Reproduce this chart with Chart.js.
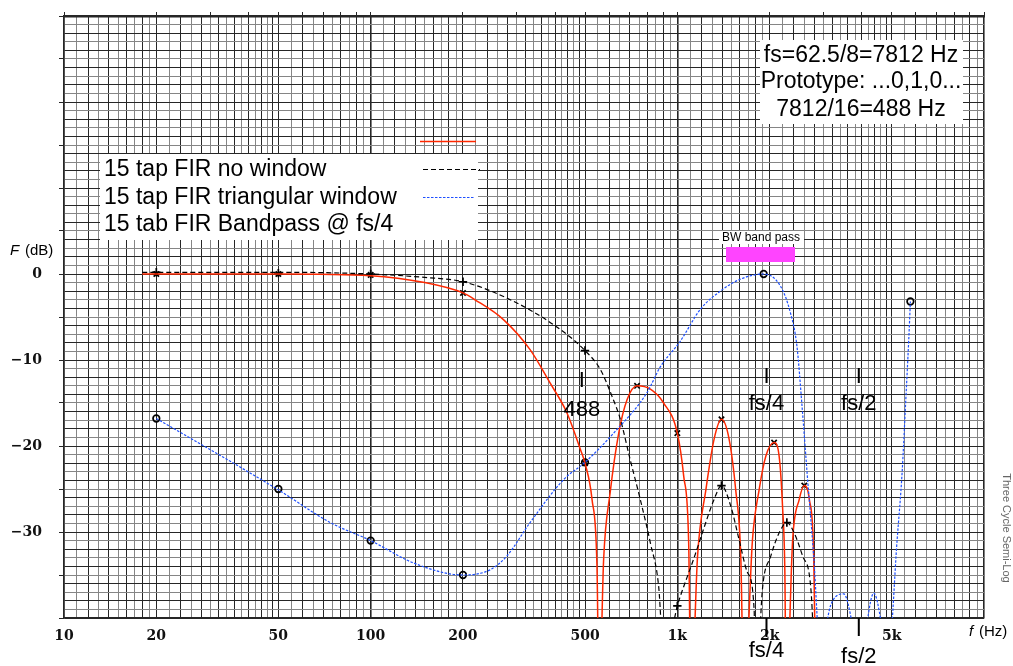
<!DOCTYPE html>
<html>
<head>
<meta charset="utf-8">
<title>15 tap FIR</title>
<script src="https://cdn.jsdelivr.net/npm/chart.js@4.4.1/dist/chart.umd.min.js"></script>
<style>
  html, body { margin: 0; padding: 0; background: #fff; }
  canvas { display: block; }
</style>
</head>
<body>
<canvas id="firChart" width="1013" height="666"></canvas>
<script>
// values: frequency in Hz, response in dB (nulls sit below the -40 floor)
var noWindowFreq = [18, 20, 50, 100, 150, 200, 219, 271, 331, 385, 436, 483, 500, 527, 547, 556,
    575, 604, 644, 686, 739, 817, 902, 1000, 1049, 1089, 1108,
    1164, 1239, 1318, 1393, 1475, 1550, 1610, 1650,
    1758, 1848, 1943, 2068, 2148, 2203, 2242, 2265,
    2377, 2498, 2594, 2694, 2784, 2832];
var noWindowDb = [0, 0, 0, -0.2, -1.0, -2.2, -3.0, -5.3, -8.8, -12.7, -16.1, -20.4, -22.0, -26.2, -34, -50,
    -33.2, -25.4, -18.5, -14.6, -13.0, -13.4, -15.0, -18.5, -23.5, -31.3, -50,
    -32.8, -25.1, -19.2, -16.9, -19.2, -25.1, -32.8, -50,
    -30.9, -25.1, -21.2, -19.6, -21.2, -27.0, -34.7, -50,
    -30.9, -26.2, -24.6, -26.2, -32.8, -50];

var triangFreq = [18, 20, 50, 100, 150, 200, 278, 395, 500, 561, 612, 652, 702, 757, 817, 869, 905,
    1000, 1075, 1134, 1222, 1318, 1393, 1494, 1590, 1693, 1780, 1800,
    1894, 2017, 2148, 2276, 2404, 2562, 2727, 2832];
var triangDb = [0.2, 0.2, 0.2, 0, -0.4, -0.9, -2.8, -5.9, -8.9, -11.1, -14.2, -16.9, -21.6, -26.2, -31.3, -36.3, -45,
    -38.6, -35.3, -33.0, -29.5, -26.2, -24.6, -27.0, -30.9, -34.7, -39.0, -50,
    -36.7, -32.8, -30.1, -28.9, -30.1, -32.8, -36.7, -50];

var bandFreq = [20, 50, 73.8, 100, 138, 200, 245, 278, 331, 426, 500, 620, 796, 880, 1023, 1189, 1380, 1605,
    1912, 2168, 2337, 2455, 2551, 2649, 2784, 2928, 3157, 3488, 3954, 4370, 4887,
    5209, 5407, 5545, 5684, 5754];
var bandDb = [-16.8, -25.1, -28.9, -31.0, -33.6, -35.0, -34.4, -32.8, -28.9, -23.9, -21.9, -18.5, -13.8, -10.8, -7.8, -4.1, -2.0, -0.6,
    0, -1.4, -4.5, -8.4, -15.4, -23.1, -32.8, -44, -38.6, -37.2, -44, -37.1, -44,
    -30.9, -23.1, -15.4, -7.6, -3.2];

// plotted sample points (markers)
var noWindowMarkFreq = [20, 50, 100, 200, 500, 739, 1000, 1393, 2068, 2594];
var noWindowMarkDb = [0, 0, -0.1, -2.2, -22.0, -13.0, -18.5, -16.9, -19.6, -24.6];
var triangMarkFreq = [20, 50, 100, 200, 500, 1000, 1393, 2276];
var triangMarkDb = [0.2, 0.1, 0, -0.9, -8.9, -38.6, -24.6, -28.9];
var bandMarkFreq = [20, 50, 100, 200, 500, 1912, 5754];
var bandMarkDb = [-16.8, -25.0, -31.0, -35.0, -21.9, 0, -3.2];

var seriesNames = ['15 tap FIR no window', '15 tap FIR triangular window', '15 tab FIR Bandpass @ fs/4'];
var xLabelValues = [10, 20, 50, 100, 200, 500, 1000, 2000, 5000];
var xLabelTexts = ['10', '20', '50', '100', '200', '500', '1k', '2k', '5k'];
var yLabelValues = [0, -10, -20, -30];
var fs = 7812;

function pairs(xs, ys) {
    return xs.map(function(v, i) { return { x: v, y: ys[i] }; });
}

// three cycle semi-log paper: 10-20 step 1, 20-50 step 2, 50-100 step 5
function paperTicks() {
    var vals = [];
    [1, 10, 100].forEach(function(k) {
        var i;
        for (i = 10; i < 20; i++) vals.push(i * k);
        for (i = 20; i < 50; i += 2) vals.push(i * k);
        for (i = 50; i < 100; i += 5) vals.push(i * k);
    });
    vals.push(10000);
    return vals;
}

function paperInfo(v) {
    var d = Math.pow(10, Math.floor(Math.log10(v) + 1e-9));
    var i = Math.round(v * 10 / d);
    var idx;
    if (i < 20) idx = i - 10;
    else if (i < 50) idx = (i - 20) / 2;
    else idx = (i - 50) / 5;
    return { decade: i === 10, dark: idx % 2 === 0 };
}

var DARK = '#262626';
var LIGHT = '#858585';

var overlayPlugin = {
    id: 'overlay',
    beforeDatasetsDraw: function(chart) {
        var c = chart.ctx;
        c.save();
        c.fillStyle = '#ffffff';
        c.fillRect(100, 154, 378, 86);
        c.fillRect(760, 40, 203, 84);
        c.fillRect(719, 231, 85, 13);
        c.fillStyle = '#ff44ff';
        c.fillRect(726, 247, 69, 15);
        c.restore();
    },
    afterDatasetsDraw: function(chart) {
        var c = chart.ctx;
        var xs = chart.scales.x;
        var sans = '"Liberation Sans", Arial, Helvetica, sans-serif';
        c.save();
        c.fillStyle = '#000';
        c.textBaseline = 'middle';

        // legend
        c.font = '23px ' + sans;
        c.textAlign = 'left';
        c.fillText(seriesNames[0], 104, 170);
        c.fillText(seriesNames[1], 104, 197.5);
        c.fillText(seriesNames[2], 104, 225);

        c.lineWidth = 1.5;
        c.strokeStyle = 'rgb(255,40,0)';
        c.beginPath(); c.moveTo(420, 141.5); c.lineTo(476, 141.5); c.stroke();
        c.lineWidth = 1.2;
        c.strokeStyle = '#000';
        c.setLineDash([5, 3]);
        c.beginPath(); c.moveTo(423, 169.5); c.lineTo(480, 169.5); c.stroke();
        c.strokeStyle = 'rgb(30,80,255)';
        c.setLineDash([2.5, 1.5]);
        c.beginPath(); c.moveTo(423, 197.5); c.lineTo(474, 197.5); c.stroke();
        c.setLineDash([]);

        // info box
        c.textAlign = 'center';
        c.fillText('fs=62.5/8=7812 Hz', 861, 56);
        c.fillText('Prototype: ...0,1,0...', 861, 82);
        c.fillText('7812/16=488 Hz', 861, 110);

        c.font = '12px ' + sans;
        c.fillText('BW band pass', 761, 238);

        // frequency markers
        c.font = '22px ' + sans;
        var p488 = xs.getPixelForValue(488);
        var p4 = xs.getPixelForValue(fs / 4);
        var p2 = xs.getPixelForValue(fs / 2);
        c.fillText('I', p488, 381);
        c.fillText('488', p488, 410);
        c.fillText('I', p4, 377);
        c.fillText('fs/4', p4, 404);
        c.fillText('I', p2, 377);
        c.fillText('fs/2', p2, 404);
        c.fillText('fs/4', p4, 651);
        c.fillText('fs/2', p2, 657);
        c.lineWidth = 2;
        c.strokeStyle = '#000';
        c.beginPath();
        c.moveTo(p4, 618); c.lineTo(p4, 637);
        c.moveTo(p2, 618); c.lineTo(p2, 636);
        c.stroke();

        // axis titles
        c.textAlign = 'left';
        c.font = 'italic 15px ' + sans;
        c.fillText('F', 10, 251);
        c.fillText('f', 969, 632);
        c.font = '15px ' + sans;
        c.fillText('(dB)', 25, 251);
        c.fillText('(Hz)', 979, 632);

        c.translate(1006, 528);
        c.rotate(Math.PI / 2);
        c.textAlign = 'center';
        c.fillStyle = '#666';
        c.font = '11px ' + sans;
        c.fillText('Three Cycle Semi-Log', 0, 0);
        c.restore();
    }
};

document.addEventListener('DOMContentLoaded', function() {
    var ctx = document.getElementById('firChart').getContext('2d');
    var tickFont = { family: '"DejaVu Serif", serif', weight: 'bold', size: 14 };

    function curve(xs, ys, color, width, dash) {
        return {
            type: 'line',
            data: pairs(xs, ys),
            borderColor: color,
            borderWidth: width,
            borderDash: dash,
            pointRadius: 0,
            fill: false,
            cubicInterpolationMode: 'monotone'
        };
    }
    function marks(xs, ys, style, radius) {
        return {
            type: 'scatter',
            data: pairs(xs, ys),
            showLine: false,
            pointStyle: style,
            pointRadius: radius,
            borderColor: '#000',
            backgroundColor: 'rgba(0,0,0,0)',
            pointBorderWidth: 1.7,
            clip: false
        };
    }

    new Chart(ctx, {
        data: {
            datasets: [
                curve(bandFreq, bandDb, 'rgb(30,80,255)', 1.2, [2.5, 1.5]),
                curve(triangFreq, triangDb, '#000', 1.2, [5, 3]),
                curve(noWindowFreq, noWindowDb, 'rgb(255,40,0)', 1.5, []),
                marks(bandMarkFreq, bandMarkDb, 'circle', 3.3),
                marks(triangMarkFreq, triangMarkDb, 'cross', 4.2),
                marks(noWindowMarkFreq, noWindowMarkDb, 'crossRot', 3.8)
            ]
        },
        options: {
            responsive: false,
            devicePixelRatio: 1,
            animation: false,
            layout: { padding: { left: 0, right: 29, top: 16, bottom: 0 } },
            plugins: { legend: { display: false }, tooltip: { enabled: false } },
            scales: {
                x: {
                    type: 'logarithmic',
                    position: 'bottom',
                    min: 10,
                    max: 10000,
                    afterBuildTicks: function(s) {
                        s.ticks = paperTicks().map(function(v) { return { value: v }; });
                    },
                    afterFit: function(s) {
                        s.height = 48;
                        s.paddingLeft = 0;
                        s.paddingRight = 0;
                    },
                    grid: {
                        drawTicks: false,
                        color: function(c) {
                            return c.tick && paperInfo(c.tick.value).dark ? DARK : LIGHT;
                        },
                        lineWidth: function(c) {
                            return c.tick && paperInfo(c.tick.value).decade ? 1.6 : 1;
                        }
                    },
                    border: { display: true, color: DARK, width: 1.5 },
                    ticks: {
                        autoSkip: false,
                        maxRotation: 0,
                        padding: 10,
                        color: '#111',
                        font: tickFont,
                        callback: function(v) {
                            var i = xLabelValues.indexOf(v);
                            return i >= 0 ? xLabelTexts[i] : '';
                        }
                    }
                },
                xTop: {
                    type: 'logarithmic',
                    position: 'top',
                    min: 10,
                    max: 10000,
                    afterBuildTicks: function(s) {
                        var t = [];
                        [10, 100, 1000].forEach(function(d) {
                            for (var m = 1; m < 10; m++) t.push({ value: m * d });
                        });
                        t.push({ value: 10000 });
                        s.ticks = t;
                    },
                    afterFit: function(s) {
                        s.height = 0;
                        s.paddingLeft = 0;
                        s.paddingRight = 0;
                    },
                    grid: { drawOnChartArea: false, tickLength: 4, color: DARK },
                    border: { display: true, color: DARK, width: 2.5 },
                    ticks: { autoSkip: false, maxRotation: 0, padding: 0, callback: function() { return ''; } }
                },
                y: {
                    type: 'linear',
                    min: -40,
                    max: 30,
                    afterBuildTicks: function(s) {
                        var t = [];
                        for (var v = -40; v <= 30; v++) t.push({ value: v });
                        s.ticks = t;
                    },
                    afterFit: function(s) {
                        s.width = 64;
                        s.paddingTop = 0;
                        s.paddingBottom = 0;
                    },
                    grid: {
                        tickLength: 5,
                        color: function(c) {
                            return c.tick && c.tick.value % 2 === 0 ? DARK : LIGHT;
                        },
                        tickColor: function(c) {
                            return c.tick && c.tick.value % 5 === 0 ? DARK : 'rgba(0,0,0,0)';
                        }
                    },
                    border: { display: true, color: DARK, width: 1.5 },
                    ticks: {
                        autoSkip: false,
                        padding: 17,
                        color: '#111',
                        font: tickFont,
                        callback: function(v) {
                            if (yLabelValues.indexOf(v) < 0) return '';
                            return v < 0 ? '\u2212' + (-v) : String(v);
                        }
                    }
                }
            }
        },
        plugins: [overlayPlugin]
    });
});
</script>
</body>
</html>
